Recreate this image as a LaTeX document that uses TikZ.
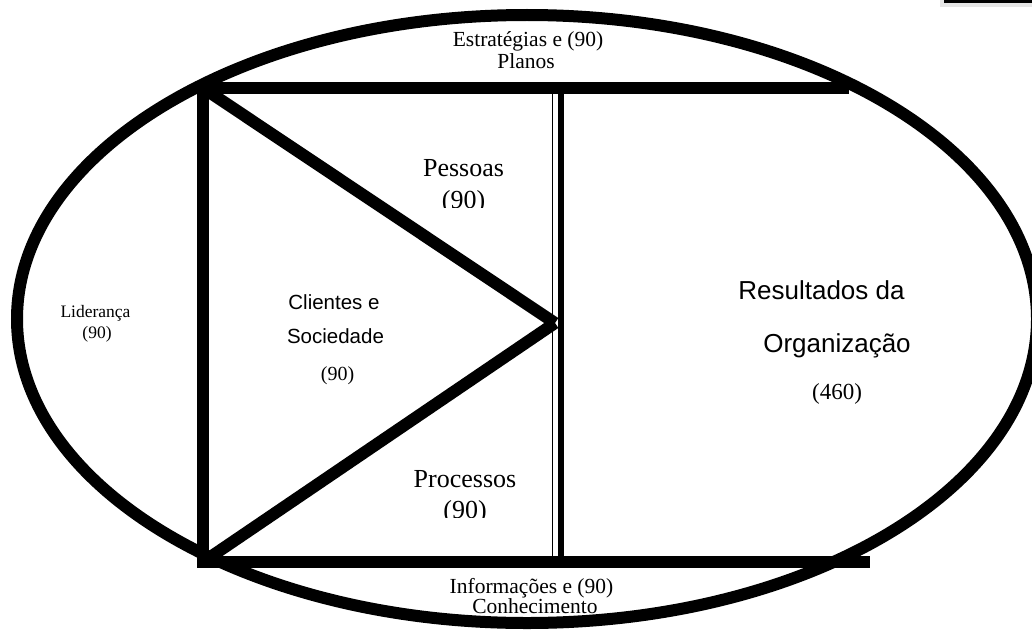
\documentclass[tikz,border=0pt]{standalone}
\usepackage{fontspec}
\setmainfont{Liberation Serif}
\newfontfamily\arialf{Liberation Sans}
\begin{document}
\begin{tikzpicture}[x=1pt,y=-1pt,
  frameline/.style={line width=11.5pt},
  diagline/.style={line width=12pt},
  lbl/.style={inner sep=0pt, anchor=base},
  smallserif/.style={lbl, font=\fontsize{21.5}{21.5}\selectfont},
  midserif/.style={lbl, font=\fontsize{26}{26}\selectfont},
  lidserif/.style={lbl, font=\fontsize{17.5}{17.5}\selectfont},
  sansmid/.style={lbl, font=\arialf\fontsize{20.5}{20.5}\selectfont},
  sansbig/.style={lbl, font=\arialf\fontsize{26}{26}\selectfont},
  numserif/.style={lbl, font=\fontsize{20}{20}\selectfont},
  bignum/.style={lbl, font=\fontsize{23}{23}\selectfont}]
\useasboundingbox (0,0) rectangle (1032,634);
\clip (0,0) rectangle (1032,634);
\fill[white] (0,0) rectangle (1032,634);
% top-right artefact
\fill[gray!20] (940,0) rectangle (1032,7);
\fill[black] (944,0) rectangle (1032,3.5);
% outer ellipse
\draw[line width=12pt] (527,319) ellipse [x radius=510pt, y radius=304pt];
% coordinates
\coordinate (TL) at (203,88);
\coordinate (BL) at (203,562);
\coordinate (TR) at (849,88);
\coordinate (BR) at (870,562);
\coordinate (AP) at (555,323);
\coordinate (T1) at (552.5,93);
\coordinate (B1) at (552.5,557);
\coordinate (T2) at (560.5,93);
\coordinate (B2) at (560.5,557);
% frame
\draw[frameline] (TL) -- (TR);
\draw[frameline] (BL) -- (BR);
\draw[frameline, line width=12.5pt, line cap=rect] (TL) -- (BL);
\draw[diagline] (TL) -- (AP);
\draw[diagline] (BL) -- (AP);
\draw[line width=1.8pt] (T1) -- (B1);
\draw[line width=6pt] (T2) -- (B2);
% labels
\node[smallserif] (est1) at (528,46.5) {Estratégias e (90)};
\node[smallserif] (est2) at (526,68) {Planos};
\node[smallserif] (inf1) at (531.5,593) {Informações e (90)};
\node[smallserif] (inf2) at (535,613.5) {Conhecimento};
\node[lidserif] (lid1) at (95.5,317) {Liderança};
\node[lidserif] (lid2) at (97,338) {(90)};
\node[midserif] (pes1) at (463.5,176) {Pessoas};
\begin{scope}
\clip (400,180) rectangle (540,207);
\node[midserif] (pes2) at (463.5,208) {(90)};
\end{scope}
\node[midserif] (pro1) at (465,487) {Processos};
\begin{scope}
\clip (400,492) rectangle (540,517);
\node[midserif] (pro2) at (465,518) {(90)};
\end{scope}
\node[sansmid] (cli1) at (334,309) {Clientes e};
\node[sansmid] (cli2) at (335.5,343) {Sociedade};
\node[numserif] (cli3) at (337.5,380) {(90)};
\node[sansbig] (res1) at (821.5,299.5) {Resultados da};
\node[sansbig] (res2) at (837,352) {Organização};
\node[bignum] (res3) at (837,399.5) {(460)};
\end{tikzpicture}
\end{document}
